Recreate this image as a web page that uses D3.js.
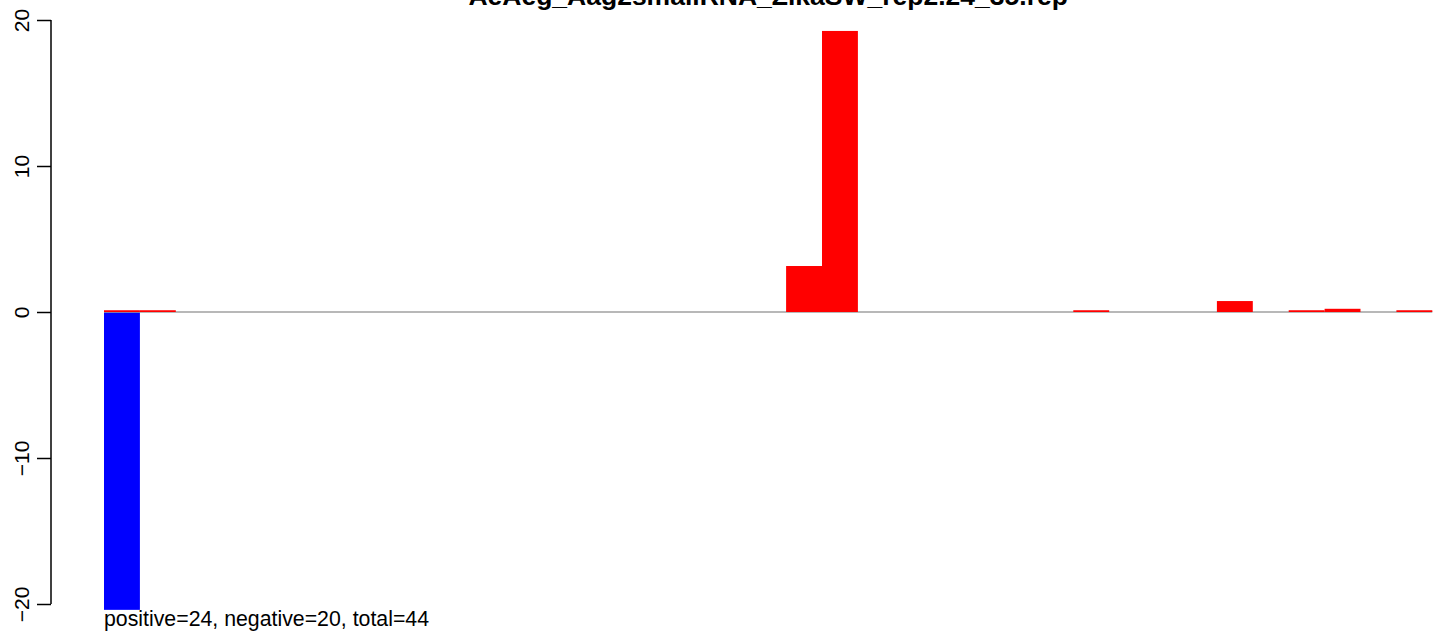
<!DOCTYPE html>
<html>
<head>
<meta charset="utf-8">
<script src="https://cdn.jsdelivr.net/npm/d3@7"></script>
<style>
  body { margin: 0; background: #fff; }
  svg { display: block; font-family: "Liberation Sans", Arial, sans-serif; }
</style>
</head>
<body>
<svg class="chart" width="1433" height="634"></svg>
<script>
var w = 1433;
var h = 634;

// 37 positions, red = positive strand, blue = negative strand
var positions = d3.range(1, 38);
var posValues = [0.12, 0.12, 0, 0, 0, 0, 0, 0, 0, 0, 0, 0, 0, 0, 0, 0, 0, 0, 0, 3.15, 19.25, 0, 0, 0, 0, 0, 0, 0.12, 0, 0, 0, 0.75, 0, 0.12, 0.22, 0, 0.12];
var negValues = [-20.4, 0, 0, 0, 0, 0, 0, 0, 0, 0, 0, 0, 0, 0, 0, 0, 0, 0, 0, 0, 0, 0, 0, 0, 0, 0, 0, 0, 0, 0, 0, 0, 0, 0, 0, 0, 0];
var yTicks = [-20, -10, 0, 10, 20];
var title = "AeAeg_Aag2smallRNA_ZikaSW_rep2.24_35.rep";
var footer = "positive=24, negative=20, total=44";

var canvas = d3.select(".chart");

var xScale = d3.scaleBand().domain(positions).range([104, 1432.3]).padding(0);
var yScale = d3.scaleLinear().domain([-20, 20]).range([604, 20]);

// negative bars
canvas.append("g")
  .selectAll("rect")
  .data(positions)
  .join("rect")
  .attr("x", (d) => xScale(d))
  .attr("width", xScale.bandwidth())
  .attr("y", yScale(0))
  .attr("height", (d, i) => yScale(negValues[i]) - yScale(0))
  .attr("fill", "#0000ff");

// zero line
canvas.append("line")
  .attr("x1", xScale.range()[0])
  .attr("x2", xScale.range()[1])
  .attr("y1", yScale(0))
  .attr("y2", yScale(0))
  .attr("stroke", "#a0a0a0")
  .attr("stroke-width", 1.6);

// positive bars
canvas.append("g")
  .selectAll("rect")
  .data(positions)
  .join("rect")
  .attr("x", (d) => xScale(d))
  .attr("width", xScale.bandwidth())
  .attr("y", (d, i) => yScale(posValues[i]))
  .attr("height", (d, i) => yScale(0) - yScale(posValues[i]))
  .attr("fill", "#ff0000");

// y axis, R style: rotated labels
var yAxis = d3.axisLeft(yScale).tickValues(yTicks).tickSize(14).tickFormat(d3.format("d"));
var gy = canvas.append("g")
  .attr("transform", "translate(51,0)")
  .call(yAxis);
gy.select(".domain").attr("d", "M0," + yScale(-20) + "V" + yScale(20)).attr("stroke-width", 1.5);
gy.selectAll(".tick line").attr("stroke-width", 1.5);
gy.selectAll(".tick text")
  .attr("font-size", 21)
  .attr("font-family", "Liberation Sans, Arial, sans-serif")
  .attr("fill", "#000")
  .attr("text-anchor", "middle")
  .attr("dy", null)
  .attr("x", null)
  .attr("transform", "translate(-22,0) rotate(-90)");

// title, clipped by the top edge
canvas.append("text")
  .attr("x", (xScale.range()[0] + xScale.range()[1]) / 2)
  .attr("y", 5)
  .attr("text-anchor", "middle")
  .attr("font-size", 26.5)
  .attr("font-weight", "bold")
  .text(title);

canvas.append("text")
  .attr("x", 104)
  .attr("y", 626)
  .attr("font-size", 21.3)
  .text(footer);
</script>
</body>
</html>
